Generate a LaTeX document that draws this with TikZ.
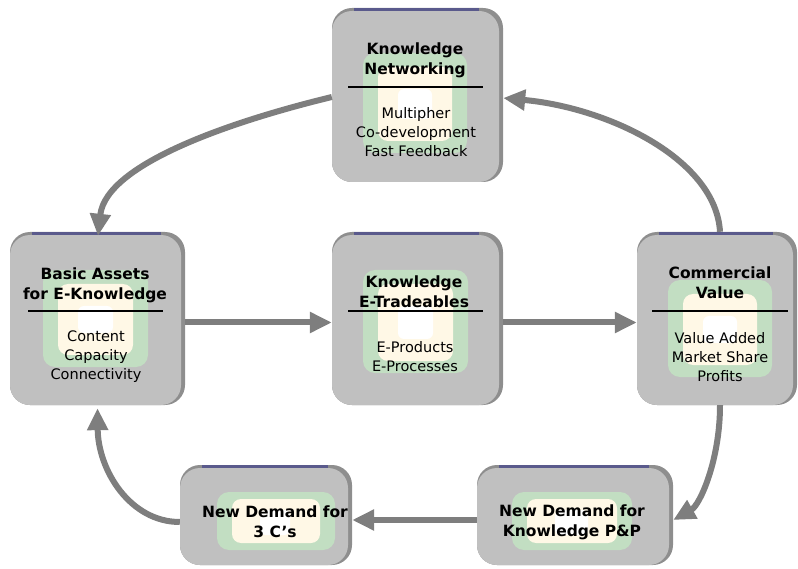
\documentclass[tikz,border=0pt]{standalone}
\usepackage{fontspec}
\setmainfont{DejaVu Sans}
\usetikzlibrary{arrows.meta,calc,fit}

\definecolor{panelgray}{HTML}{C0C0C0}
\definecolor{panelshade}{HTML}{8E8E8E}
\definecolor{paneltop}{HTML}{5A5A8C}
\definecolor{glowgreen}{HTML}{C2DEC2}
\definecolor{glowcream}{HTML}{FFF8E6}
\definecolor{flowgray}{HTML}{7E7E7E}

% bevelled grey panel: name, x0, y0, x1, y1
\newcommand\drawpanel[5]{%
  \fill[panelshade, rounded corners=20pt] (#2,#3) rectangle (#4,#5);
  \fill[panelgray, rounded corners=20pt] (#2,{#3+3}) rectangle ({#4-4},#5);
  \draw[paneltop, line width=3pt] ({#2+22},{#3+1.5}) -- ({#4-24},{#3+1.5});
  \node[inner sep=0pt, fit={(#2,#3) (#4,#5)}] (#1) {};
}
% soft green/cream glow behind the panel text: x0, y0, x1, y1
\newcommand\drawglow[4]{%
  \fill[glowgreen, rounded corners=12pt] (#1,#2) rectangle (#3,#4);
  \fill[glowcream, rounded corners=10pt] ({#1+15},{#2+14}) rectangle ({#3-15},{#4-12});
  \fill[white, rounded corners=6pt] ({#1+35},{#2+36}) rectangle ({#3-35},{#4-34});
}

\begin{document}
\begin{tikzpicture}[x=1pt,y=-1pt,
  title/.style={font=\fontsize{15.5}{20}\selectfont\bfseries, align=center, inner sep=0pt},
  body/.style={font=\fontsize{14.5}{19}\selectfont, align=center, inner sep=0pt},
  rule/.style={line width=1.2pt, black},
  flow/.style={line width=6pt, flowgray, -{Triangle[length=22pt,width=20pt]}},
]
\useasboundingbox (0,0) rectangle (798,569);

% panels
\drawpanel{net}{332}{8}{503}{182}
\drawpanel{assets}{10}{232}{185}{405}
\drawpanel{trade}{332}{232}{503}{405}
\drawpanel{comm}{637}{232}{797}{405}
\drawpanel{need3c}{180}{465}{352}{565}
\drawpanel{needkp}{477}{465}{673}{565}

% glows
\drawglow{363}{53}{467}{153}
\drawglow{43}{270}{148}{367}
\drawglow{363}{270}{468}{373}
\drawglow{668}{280}{772}{377}
\fill[glowgreen, rounded corners=12pt] (217,492) rectangle (335,550);
\fill[glowcream, rounded corners=9pt] (232,499) rectangle (320,543);
\fill[white, rounded corners=5pt] (260,510) rectangle (290,535);
\fill[glowgreen, rounded corners=12pt] (512,492) rectangle (632,550);
\fill[glowcream, rounded corners=9pt] (527,499) rectangle (617,543);
\fill[white, rounded corners=5pt] (555,510) rectangle (588,535);

% texts
\node[title] (netT) at (415,60) {Knowledge\\Networking};
\draw[rule] (348,87) -- (483,87);
\node[body] (netB) at (416,132) {Multipher\\Co-development\\Fast Feedback};

\node[title] (assetsT) at (95,285) {Basic Assets\\for E-Knowledge};
\draw[rule] (28,311) -- (163,311);
\node[body] (assetsB) at (96,357) {Content\\Capacity\\Connectivity};

\node[title] (tradeT) at (414,292) {Knowledge\\E-Tradeables};
\draw[rule] (348,311) -- (483,311);
\node[body] (tradeB) at (415,357) {E-Products\\E-Processes};

\node[title] (commT) at (720,283) {Commercial\\Value};
\draw[rule] (652,311) -- (788,311);
\node[body] (commB) at (720,357) {Value Added\\Market Share\\Profits};

\node[title] (need3cT) at (275,522) {New Demand for\\3 C's};
\node[title] (needkpT) at (572,522) {New Demand for\\Knowledge P\&P};

% connectors
\draw[flow] ($(net.west)+(0,2)$) .. controls (241,119) and (106,162) .. ($(assets.north)+(0.5,4)$);
\draw[flow] ($(assets.east)+(0,4)$) -- ($(trade.west)+(0,4)$);
\draw[flow] ($(trade.east)+(0,4)$) -- ($(comm.west)+(0,4)$);
\draw[flow] ($(comm.north)+(3,0)$) .. controls (716,160) and (610,108) .. ($(net.east)+(0,3)$);
\draw[flow] ($(comm.south)+(3,0)$) .. controls (720,460) and (700,505) .. ($(needkp.east)+(0,5)$);
\draw[flow] ($(needkp.west)+(0,5)$) -- ($(need3c.east)+(0,5)$);
\draw[flow] ($(need3c.west)+(0,7)$) .. controls (130,522) and (98,470) .. ($(assets.south)+(0,3)$);
\end{tikzpicture}
\end{document}
